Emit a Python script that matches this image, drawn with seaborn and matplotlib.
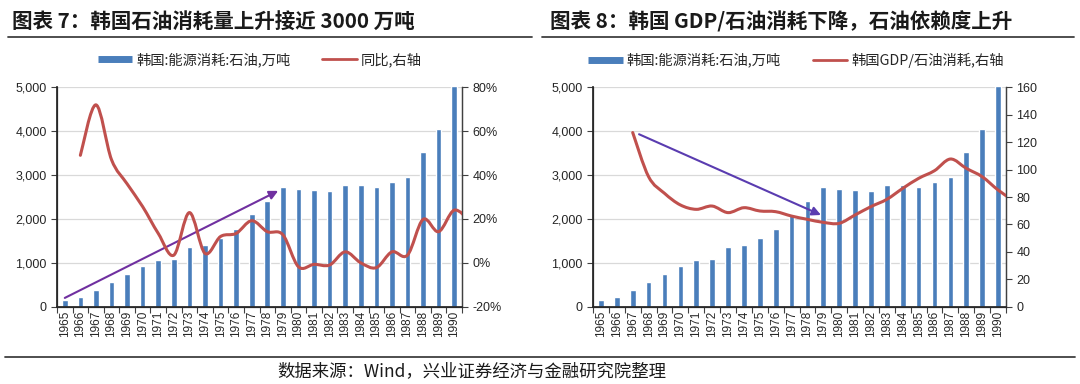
import numpy as np
import pandas as pd
import matplotlib
matplotlib.use("Agg")
import matplotlib.pyplot as plt
import seaborn as sns
from matplotlib.path import Path
from matplotlib.patches import PathPatch
from matplotlib.lines import Line2D
from matplotlib.ticker import FuncFormatter, FixedLocator

# ---------------- data ----------------
years = [1965, 1966, 1967, 1968, 1969, 1970, 1971, 1972, 1973, 1974, 1975, 1976, 1977,
         1978, 1979, 1980, 1981, 1982, 1983, 1984, 1985, 1986, 1987, 1988, 1989, 1990]
oil = [150, 220, 390, 555, 745, 927, 1056, 1080, 1353, 1406, 1565, 1763, 2105,
       2401, 2720, 2683, 2652, 2637, 2766, 2766, 2720, 2842, 2964, 3534, 4050, 5020]

yoy_years = [1966, 1967, 1968, 1969, 1970, 1971, 1972, 1973, 1974, 1975, 1976, 1977, 1978,
             1979, 1980, 1981, 1982, 1983, 1984, 1985, 1986, 1987, 1988, 1989, 1990, 1991]
yoy = [49, 72, 47, 36, 25.6, 13.4, 3.5, 22.9, 4.3, 12, 13.4, 19.2, 14.2,
       12.8, -1.8, -0.7, -1.0, 5.0, 0.0, -2.2, 5.0, 3.5, 19.8, 14.2, 24.0, 19.0]

gdp_years = [1967, 1968, 1969, 1970, 1971, 1972, 1973, 1974, 1975, 1976, 1977, 1978, 1979,
             1980, 1981, 1982, 1983, 1984, 1985, 1986, 1987, 1988, 1989, 1990, 1991]
gdp_ratio = [127, 94.8, 82.7, 74.2, 71, 73.4, 68.6, 72.2, 69.8, 69.3, 66.1, 63.7, 61.5,
             60.8, 66.9, 73, 78.3, 86.3, 93.6, 99.2, 107.7, 100.9, 94.8, 85.1, 77]

# trend arrows (year, value on left axis)
arrow1_start, arrow1_end = (1965.0, 200), (1978.7, 2640)
arrow2_start, arrow2_end = (1967.4, 3930), (1978.85, 2090)

title1 = "图表 7：韩国石油消耗量上升接近 3000 万吨"
title2 = "图表 8：韩国 GDP/石油消耗下降，石油依赖度上升"
bar_label = "韩国:能源消耗:石油,万吨"
line1_label = "同比,右轴"
line2_label = "韩国GDP/石油消耗,右轴"
source = "数据来源：Wind，兴业证券经济与金融研究院整理"

# ---------------- style ----------------
sns.set_theme(style="white")
plt.rcParams['font.family'] = ['Liberation Sans', 'Noto Sans CJK SC', 'DejaVu Sans']

BLUE = '#4A7EBB'
RED = '#C0504D'
GRID = '#D9D9D9'
AX = '#404040'

fig = plt.figure(figsize=(10.8, 3.84), dpi=100)

labels = [str(y) for y in years]
df = pd.DataFrame({'year': labels, 'oil': oil})


def smooth_path(xs, ys):
    pts = np.column_stack([xs, ys]).astype(float)
    n = len(pts)
    verts = [pts[0]]
    codes = [Path.MOVETO]
    for i in range(n - 1):
        p0 = pts[i - 1] if i > 0 else pts[i]
        p1 = pts[i]
        p2 = pts[i + 1]
        p3 = pts[i + 2] if i + 2 < n else pts[i + 1]
        c1 = p1 + (p2 - p0) / 6.0
        c2 = p2 - (p3 - p1) / 6.0
        verts += [c1, c2, p2]
        codes += [Path.CURVE4] * 3
    return Path(verts, codes)


def pos(y):
    return years.index(y) if y in years else (y - years[0])


def make_panel(rect, line_years, line_vals, rlim, rticks, rfmt, arrow, arrow_color):
    ax = fig.add_axes(rect)
    sns.barplot(data=df, x='year', y='oil', color=BLUE, saturation=1, width=0.36,
                ax=ax, zorder=2)
    ax.set_xlim(-0.5, len(years) - 0.5)
    ax.set_ylim(0, 5000)
    ax.set_yticks([0, 1000, 2000, 3000, 4000, 5000])
    ax.yaxis.set_major_formatter(FuncFormatter(lambda v, p: f"{int(v):,}"))
    ax.yaxis.grid(True, color=GRID, lw=0.9, zorder=0)
    ax.set_axisbelow(True)
    ax.set_xlabel('')
    ax.set_ylabel('')
    # category ticks at boundaries, labels at centres
    ax.xaxis.set_major_locator(FixedLocator(np.arange(-0.5, len(years), 1.0)))
    ax.xaxis.set_minor_locator(FixedLocator(np.arange(len(years))))
    ax.set_xticklabels([])
    ax.set_xticks(np.arange(len(years)), minor=True)
    ax.set_xticklabels(labels, minor=True, rotation=90, fontsize=8.5, color='#262626')
    ax.tick_params(axis='x', which='major', direction='out', length=4, width=0.8,
                   color=AX, bottom=True)
    ax.tick_params(axis='x', which='minor', length=0, pad=3, bottom=True)
    ax.tick_params(axis='y', direction='out', length=4, width=0.8, color=AX,
                   labelsize=9, labelcolor='#262626', left=True)
    for s in ['left', 'bottom', 'right']:
        ax.spines[s].set_visible(True)
        ax.spines[s].set_color(AX)
        ax.spines[s].set_linewidth(0.9)
    ax.spines['top'].set_visible(False)

    ax2 = ax.twinx()
    ax2.set_ylim(*rlim)
    ax2.set_yticks(rticks)
    ax2.yaxis.set_major_formatter(FuncFormatter(rfmt))
    ax2.tick_params(axis='y', direction='out', length=4, width=0.8, color=AX,
                    labelsize=9, labelcolor='#262626', right=True)
    ax2.spines['top'].set_visible(False)
    ax2.spines['right'].set_color(AX)
    ax2.spines['right'].set_linewidth(0.9)
    ax2.grid(False)
    xs = [pos(y) for y in line_years]
    patch = PathPatch(smooth_path(xs, line_vals), facecolor='none', edgecolor=RED,
                      lw=2.2, zorder=3, capstyle='round', joinstyle='round')
    ax2.add_patch(patch)
    ax2.set_xlim(-0.5, len(years) - 0.5)

    (sx, sy), (ex, ey) = arrow
    ax.annotate('', xy=(ex - years[0], ey), xytext=(sx - years[0], sy),
                arrowprops=dict(arrowstyle='-|>', color=arrow_color, lw=1.5,
                                mutation_scale=13, shrinkA=0, shrinkB=0), zorder=4)
    return ax, ax2


make_panel([57 / 1080, 1 - 306.7 / 384, 405 / 1080, 219.4 / 384],
           yoy_years, yoy, (-20, 80), [-20, 0, 20, 40, 60, 80],
           lambda v, p: f"{int(v)}%", (arrow1_start, arrow1_end), '#7030A0')
make_panel([593 / 1080, 1 - 306.7 / 384, 413 / 1080, 219.4 / 384],
           gdp_years, gdp_ratio, (0, 160), [0, 20, 40, 60, 80, 100, 120, 140, 160],
           lambda v, p: f"{int(v)}", (arrow2_start, arrow2_end), '#5A3CB0')

# titles
tfam = ['Noto Sans CJK SC', 'DejaVu Sans']
fig.text(12 / 1080, 1 - 22 / 384, title1, fontsize=14.8, fontweight='bold',
         family=tfam, ha='left', va='center', color='#1a1a1a')
fig.text(550 / 1080, 1 - 22 / 384, title2, fontsize=14.8, fontweight='bold',
         family=tfam, ha='left', va='center', color='#1a1a1a')
for x0, x1 in [(8, 532), (542, 1074)]:
    fig.add_artist(Line2D([x0 / 1080, x1 / 1080], [1 - 37 / 384] * 2,
                          transform=fig.transFigure, color='#404040', lw=1.3))
fig.add_artist(Line2D([5 / 1080, 1075 / 1080], [1 - 357 / 384] * 2,
                      transform=fig.transFigure, color='#404040', lw=1.3))

# legends
h_bar = Line2D([], [], color=BLUE, lw=5, solid_capstyle='butt')
h_line = Line2D([], [], color=RED, lw=2)
fig.legend([h_bar, h_line], [bar_label, line1_label], loc='center',
           bbox_to_anchor=(260 / 1080, 1 - 60 / 384), ncol=2, frameon=False,
           handlelength=2.4, handletextpad=0.3, columnspacing=2.2,
           prop={'family': tfam, 'size': 10.3})
fig.legend([h_bar, h_line], [bar_label, line2_label], loc='center',
           bbox_to_anchor=(796 / 1080, 1 - 60 / 384), ncol=2, frameon=False,
           handlelength=2.4, handletextpad=0.3, columnspacing=2.2,
           prop={'family': tfam, 'size': 10.3})

fig.text(472 / 1080, 1 - 371 / 384, source, fontsize=12.5, family=tfam,
         ha='center', va='center', color='#1a1a1a')

fig.savefig('out.png', dpi=100)
